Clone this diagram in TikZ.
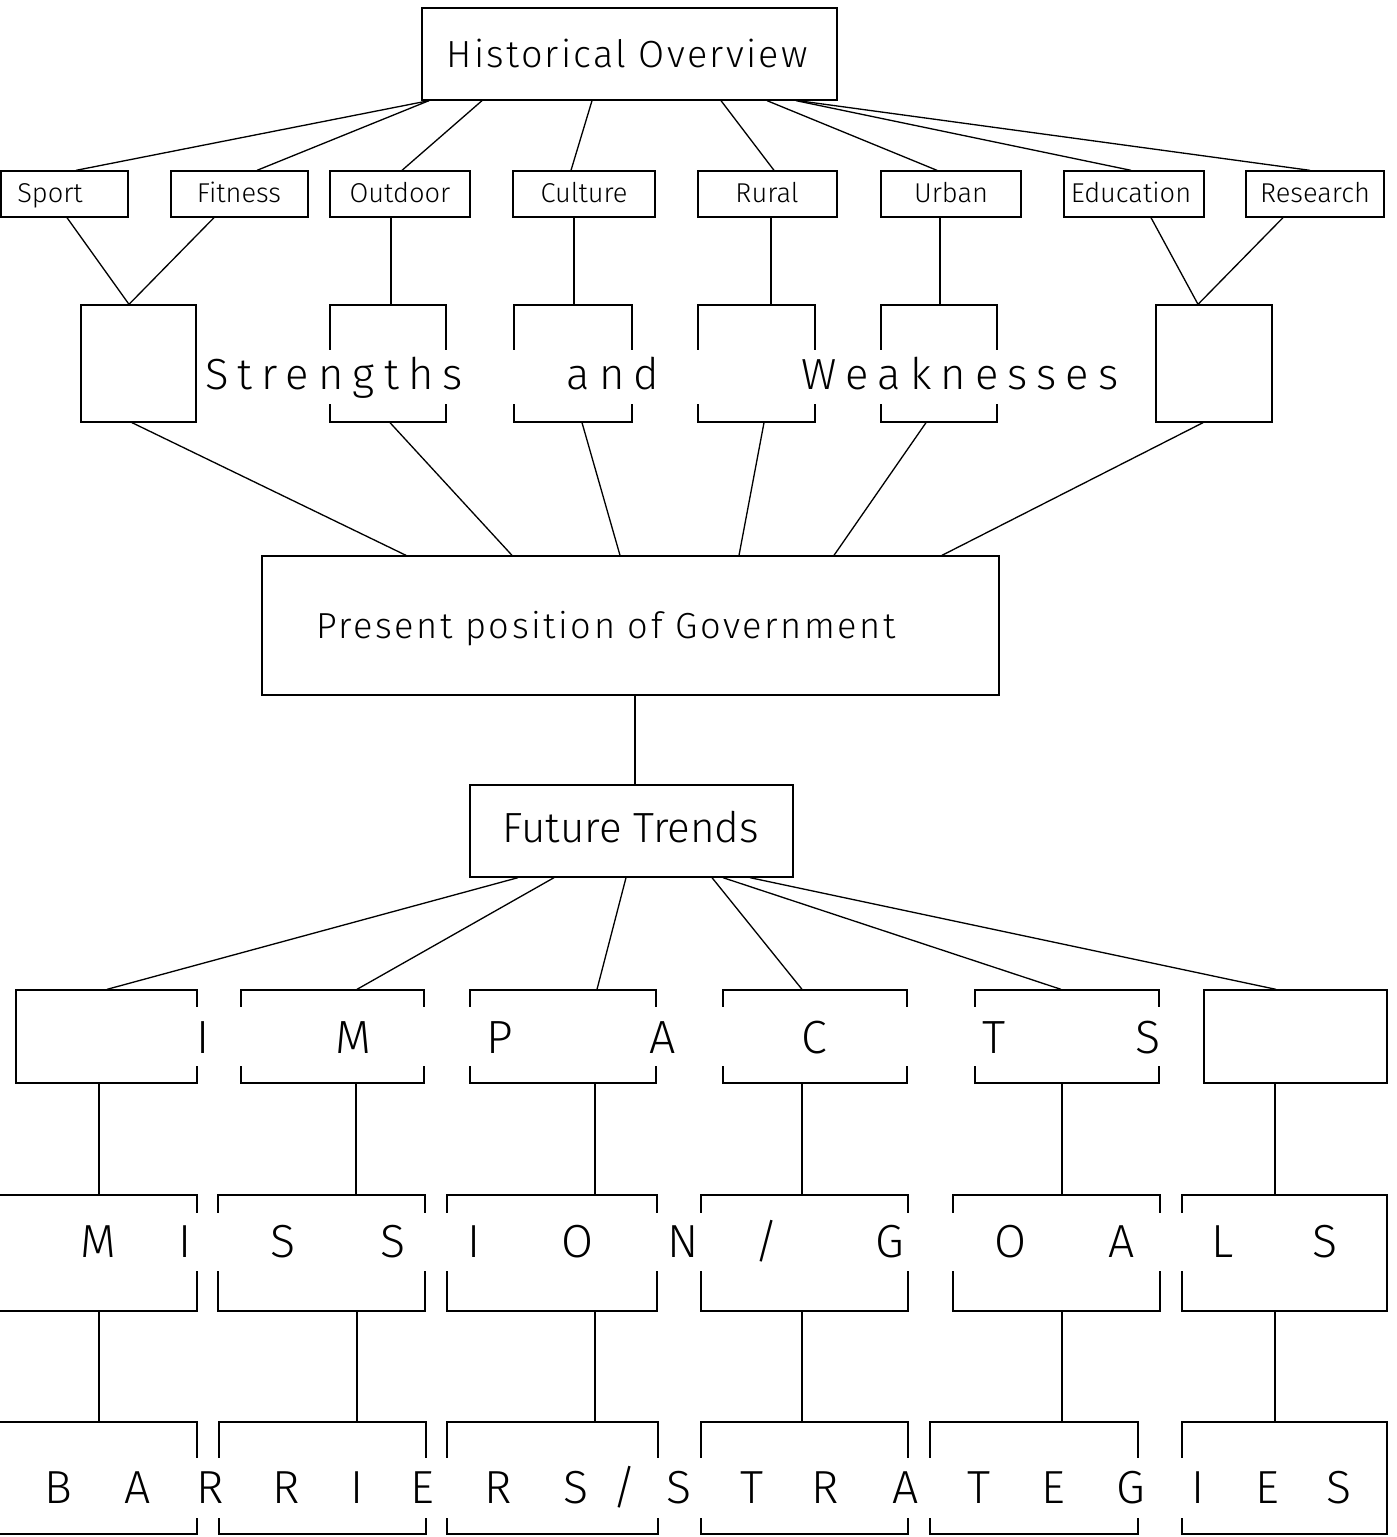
\documentclass[tikz,border=0pt]{standalone}
\usepackage{fontspec}
\newfontfamily\plotfont{Fira Sans Light}
\usetikzlibrary{fit}
\tikzset{
  box/.style={draw, line width=0.75pt, inner sep=0pt},
  link/.style={line width=0.75pt},
  band/.style={fill=white},
  headfont/.style={font=\plotfont\fontsize{21.5}{24}\selectfont\addfontfeature{LetterSpace=6}},
  tagfont/.style={font=\plotfont\fontsize{15.5}{18}\selectfont},
  swfont/.style={font=\plotfont\fontsize{24.8}{28}\selectfont\addfontfeature{LetterSpace=21}},
  presfont/.style={font=\plotfont\fontsize{20.6}{24}\selectfont\addfontfeature{LetterSpace=7}},
  futfont/.style={font=\plotfont\fontsize{24}{28}\selectfont},
  impfont/.style={font=\plotfont\fontsize{26.5}{30}\selectfont},
  bigfont/.style={font=\plotfont\fontsize{26.4}{30}\selectfont}
}
\begin{document}
\begin{tikzpicture}[x=0.02cm,y=-0.02cm]
\useasboundingbox (0,0) rectangle (1396,1537);

% top box and its eight branches
\node[box, fit={(422,8) (837,100)}] (hist) {};
\node[headfont, anchor=base] (histtext) at (627,68) {Historical Overview};
\node[box, fit={(1,171) (128,217)}] (sport) {};
\node[box, fit={(171,171) (308,217)}] (fitness) {};
\node[box, fit={(330,171) (470,217)}] (outdoor) {};
\node[box, fit={(513,171) (655,217)}] (culture) {};
\node[box, fit={(698,171) (837,217)}] (rural) {};
\node[box, fit={(881,171) (1021,217)}] (urban) {};
\node[box, fit={(1064,171) (1204,217)}] (education) {};
\node[box, fit={(1246,171) (1384,217)}] (research) {};
\foreach \name/\xx/\txt in {sport/50/Sport, fitness/239/Fitness, outdoor/400/Outdoor,
    culture/584/Culture, rural/767/Rural, urban/951/Urban, education/1131/Education,
    research/1315/Research}
  \node[tagfont, anchor=base] (\name text) at (\xx,203) {\txt};
\foreach \name/\xa/\xb in {sport/429/76, fitness/429/257, outdoor/482/402, culture/592/571,
    rural/721/774, urban/767/937, education/796/1131, research/798/1310}
  \draw[link] (hist.south -| \xa,0) -- (\name.north -| \xb,0);

% strengths and weaknesses
\node[box, fit={(81,305) (196,422)}] (sw1) {};
\node[box, fit={(330,305) (446,422)}] (sw2) {};
\node[box, fit={(514,305) (632,422)}] (sw3) {};
\node[box, fit={(698,305) (815,422)}] (sw4) {};
\node[box, fit={(881,305) (997,422)}] (sw5) {};
\node[box, fit={(1156,305) (1272,422)}] (sw6) {};
\foreach \name/\to/\xa/\xb in {sport/sw1/67/129, fitness/sw1/214/129, outdoor/sw2/391/391,
    culture/sw3/574/574, rural/sw4/771/771, urban/sw5/940/940,
    education/sw6/1151/1198, research/sw6/1283/1198}
  \draw[link] (\name.south -| \xa,0) -- (\to.north -| \xb,0);
\fill[band] (199,350) rectangle (1140,404);
\node[swfont, anchor=base] (strengths) at (334,389) {Strengths};
\node[swfont, anchor=base] (and) at (613,389) {and};
\node[swfont, anchor=base] (weak) at (960,389) {Weaknesses};

% present position
\node[box, fit={(262,556) (999,695)}] (present) {};
\node[presfont, anchor=base] (prestext) at (606,638) {Present position of Government};
\foreach \name/\xa/\xb in {sw1/132/406, sw2/390/512, sw3/582/620,
    sw4/764/739, sw5/926/834, sw6/1203/942}
  \draw[link] (\name.south -| \xa,0) -- (present.north -| \xb,0);

% future trends
\node[box, fit={(470,785) (793,877)}] (future) {};
\node[futfont, anchor=base] (futtext) at (631,842) {Future Trends};
\draw[link] (present.south -| 635,0) -- (future.north -| 635,0);

% impacts
\node[box, fit={(16,990) (197,1083)}] (imp1) {};
\node[box, fit={(241,990) (424,1083)}] (imp2) {};
\node[box, fit={(470,990) (656,1083)}] (imp3) {};
\node[box, fit={(723,990) (907,1083)}] (imp4) {};
\node[box, fit={(975,990) (1159,1083)}] (imp5) {};
\node[box, fit={(1204,990) (1387,1083)}] (imp6) {};
\foreach \i/\xa/\xb in {1/518/107, 2/554/357, 3/626/597, 4/712/802, 5/723/1061, 6/750/1276}
  \draw[link] (future.south -| \xa,0) -- (imp\i.north -| \xb,0);
\fill[band] (180,1007) rectangle (1185,1066);
\foreach \ch/\xx [count=\k] in {I/203, M/353, P/500, A/663, C/814, T/994, S/1148}
  \node[impfont, anchor=base] (impl\k) at (\xx,1053) {\ch};

% mission / goals
\node[box, fit={(-30,1195) (197,1311)}] (mis1) {};
\node[box, fit={(218,1195) (425,1311)}] (mis2) {};
\node[box, fit={(447,1195) (657,1311)}] (mis3) {};
\node[box, fit={(701,1195) (908,1311)}] (mis4) {};
\node[box, fit={(953,1195) (1160,1311)}] (mis5) {};
\node[box, fit={(1182,1195) (1387,1311)}] (mis6) {};
\foreach \i/\xx in {1/99, 2/356, 3/595, 4/802, 5/1062, 6/1275}
  \draw[link] (imp\i.south -| \xx,0) -- (mis\i.north -| \xx,0);
\fill[band] (-30,1213) rectangle (1370,1271);
\foreach \ch/\xx [count=\k] in {M/98, I/185, S/283, S/393, I/474, O/578, N/683, \slash/767,
    G/890, O/1011, A/1122, L/1223, S/1325}
  \node[bigfont, anchor=base] (misl\k) at (\xx,1257) {\ch};

% barriers / strategies
\node[box, fit={(-30,1422) (197,1534)}] (bar1) {};
\node[box, fit={(219,1422) (426,1534)}] (bar2) {};
\node[box, fit={(447,1422) (658,1534)}] (bar3) {};
\node[box, fit={(701,1422) (908,1534)}] (bar4) {};
\node[box, fit={(930,1422) (1138,1534)}] (bar5) {};
\node[box, fit={(1182,1422) (1387,1534)}] (bar6) {};
\foreach \i/\xx in {1/99, 2/357, 3/595, 4/802, 5/1062, 6/1275}
  \draw[link] (mis\i.south -| \xx,0) -- (bar\i.north -| \xx,0);
\fill[band] (-30,1458) rectangle (1370,1518);
\foreach \ch/\xx [count=\k] in {B/58, A/138, R/210, R/286, I/357, E/422, R/498, S/576, \slash/625,
    S/679, T/752, R/825, A/906, T/979, E/1053, G/1131, I/1198, E/1267, S/1339}
  \node[bigfont, anchor=base] (barl\k) at (\xx,1503) {\ch};
\end{tikzpicture}
\end{document}
